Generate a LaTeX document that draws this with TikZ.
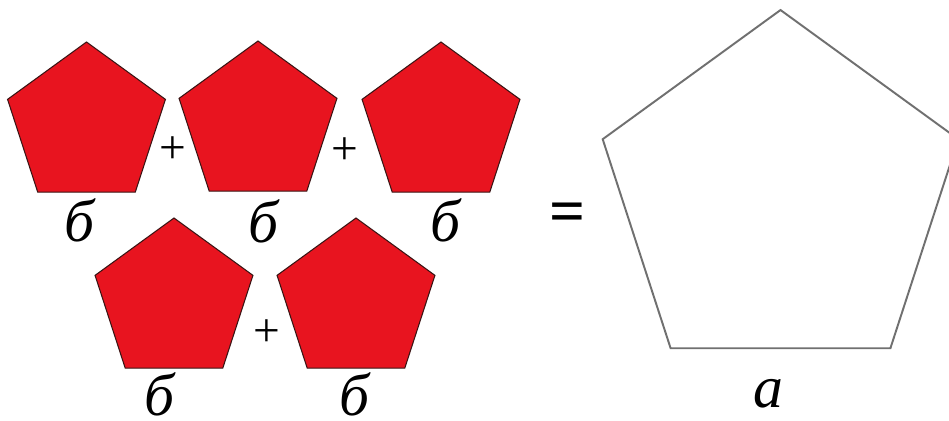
\documentclass[tikz,border=0pt]{standalone}
\usepackage{fontspec}
\setmainfont{Liberation Serif}
\usetikzlibrary{shapes.geometric}
\definecolor{pentred}{HTML}{E8141F}
\definecolor{pentedge}{HTML}{3A1414}
\definecolor{bigedge}{HTML}{707070}
\begin{document}
\begin{tikzpicture}[x=0.02cm,y=-0.02cm,
  redpent/.style={regular polygon,regular polygon sides=5,inner sep=0pt,outer sep=0pt,
    minimum size=3.32cm,fill=pentred,draw=pentedge,line width=0.6pt},
  bigpent/.style={regular polygon,regular polygon sides=5,inner sep=0pt,outer sep=0pt,
    minimum size=7.48cm,fill=white,draw=bigedge,line width=1.1pt},
  lbl/.style={inner sep=0pt,font=\fontsize{34}{36}\selectfont\itshape},
  plus/.style={inner sep=0pt,font=\fontsize{27}{29}\selectfont},
  eq/.style={inner sep=0pt,font=\fontsize{36}{38}\selectfont\bfseries}]
\useasboundingbox[fill=white] (0,0) rectangle (949,421);
% top row
\node[redpent] (p1) at (86.5,125) {};
\node[redpent] (p2) at (258,124) {};
\node[redpent] (p3) at (441,125) {};
% bottom row
\node[redpent] (p4) at (174,301) {};
\node[redpent] (p5) at (356,301) {};
% big pentagon
\node[bigpent] (big) at (780.5,197) {};
% labels
\node[lbl] (b1) at (80,220) {б};
\node[lbl] (b2) at (264,221) {б};
\node[lbl] (b3) at (446,220) {б};
\node[lbl] (b4) at (160,394) {б};
\node[lbl] (b5) at (355,394) {б};
\node[lbl] (la) at (768,394) {a};
% operators
\node[plus] (s1) at (173,150) {+};
\node[plus] (s2) at (345,151) {+};
\node[plus] (s3) at (267,333) {+};
\node[eq] (e) at (568,218) {=};
\end{tikzpicture}
\end{document}
